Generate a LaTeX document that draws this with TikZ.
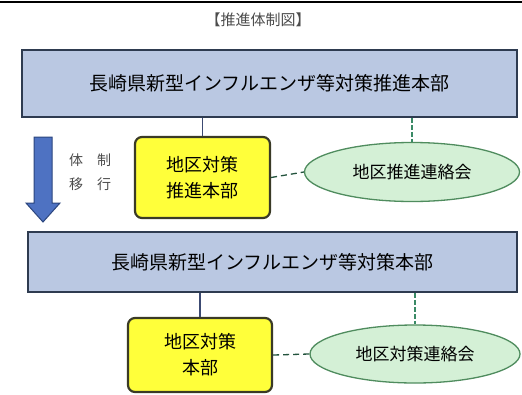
\documentclass[tikz,border=0pt]{standalone}
\usepackage{fontspec}
\setmainfont{Noto Sans CJK JP}
\usetikzlibrary{shapes.geometric}
\definecolor{boxfill}{HTML}{BAC8E2}
\definecolor{boxline}{HTML}{2E3B50}
\definecolor{yelfill}{HTML}{FFFF3A}
\definecolor{yelline}{HTML}{3A3A26}
\definecolor{ellfill}{HTML}{D4F0D6}
\definecolor{ellline}{HTML}{4F8C5E}
\definecolor{conblue}{HTML}{3C4A72}
\definecolor{congreen}{HTML}{3A8A66}
\definecolor{arrfill}{HTML}{4E72C2}
\definecolor{arrline}{HTML}{2C467E}
\tikzset{
  hqbox/.style={rectangle, draw=boxline, line width=1.6pt, fill=boxfill, inner sep=0pt, font=\fontsize{19}{22}\selectfont},
  localbox/.style={rectangle, rounded corners=7pt, draw=yelline, line width=2.2pt, fill=yelfill, align=center, inner sep=0pt, font=\fontsize{18}{26}\selectfont},
  meetell/.style={ellipse, draw=ellline, line width=1.3pt, fill=ellfill, inner sep=0pt, font=\fontsize{17}{20}\selectfont},
  linkblue/.style={draw=conblue, line width=1.2pt},
  linkgreen/.style={draw=congreen, line width=1.2pt, dash pattern=on 5pt off 2pt},
  linkdash/.style={draw=congreen!60!black, line width=1.3pt, dash pattern=on 6pt off 4pt},
}
\begin{document}
\begin{tikzpicture}[x=1pt,y=-1pt]
\useasboundingbox (0,0) rectangle (522,394);
\fill[white] (0,0) rectangle (522,394);
\draw[line width=2.5pt] (0,2) -- (522,2);
\node[font=\fontsize{15}{18}\selectfont, text=black!70] (title) at (258,20) {【推進体制図】};

\node[hqbox, minimum width=495pt, minimum height=67pt] (top) at (269.5,83.5) {長崎県新型インフルエンザ等対策推進本部};
\node[hqbox, minimum width=489pt, minimum height=60pt] (bot) at (272.5,262) {長崎県新型インフルエンザ等対策本部};

\node[localbox, minimum width=135pt, minimum height=81pt] (yel1) at (202.5,177.5) {地区対策\\推進本部};
\node[localbox, minimum width=144pt, minimum height=74pt] (yel2) at (200,355) {地区対策\\本部};

\node[meetell, minimum width=215pt, minimum height=59pt] (ell1) at (412,172) {地区推進連絡会};
\node[meetell, minimum width=210pt, minimum height=58pt] (ell2) at (415,354) {地区対策連絡会};

\draw[linkblue] (top.south -| yel1.north) -- (yel1.north);
\draw[linkgreen] (top.south -| ell1.north) -- (ell1.north);
\draw[linkblue] (bot.south -| yel2.north) -- (yel2.north);
\draw[linkgreen] (bot.south -| ell2.north) -- (ell2.north);
\draw[linkdash] (yel1.east) -- (ell1.west);
\draw[linkdash] (yel2.east) -- (ell2.west);

\draw[fill=arrfill, draw=arrline, line width=1pt]
  (34,137) -- (52,137) -- (52,203) -- (60,203) -- (43,222) -- (26,203) -- (34,203) -- cycle;
\node[font=\fontsize{14}{24}\selectfont, text=black!70, align=center] (lbl) at (90,172) {体\hspace{14pt}制\\移\hspace{14pt}行};
\end{tikzpicture}
\end{document}
